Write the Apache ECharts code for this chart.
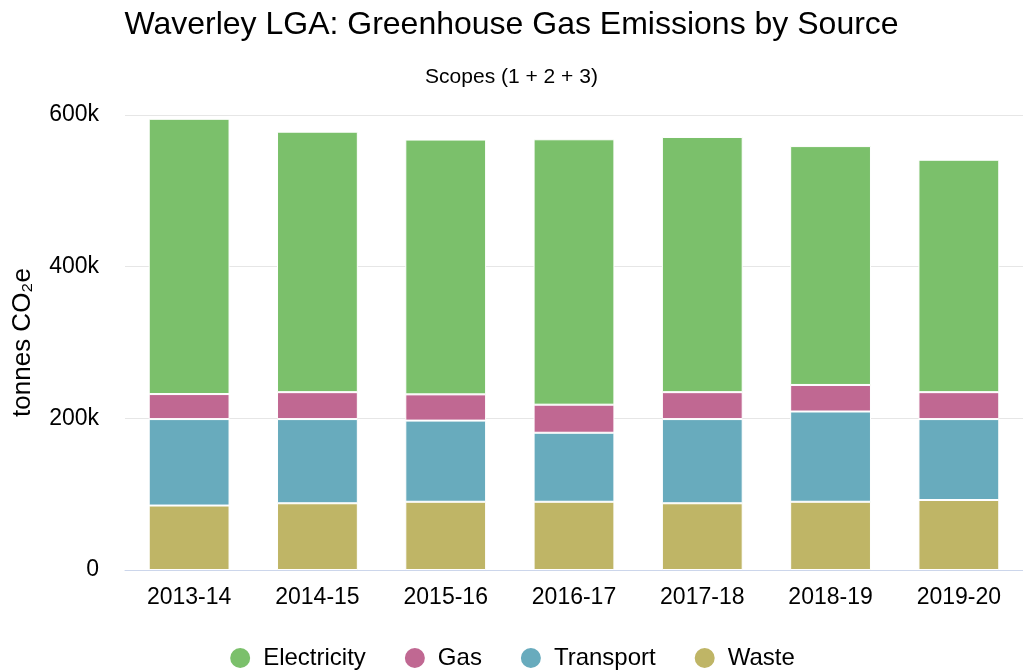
<!DOCTYPE html>
<html>
<head>
<meta charset="utf-8">
<script src="https://cdn.jsdelivr.net/npm/echarts@6/dist/echarts.min.js"></script>
<style>html,body{margin:0;padding:0;background:#fff}#c{width:1023px;height:670px}</style>
</head>
<body>
<div id="c"></div>
<script>
const categories = ['2013-14','2014-15','2015-16','2016-17','2017-18','2018-19','2019-20'];
const electricity = [363, 343.5, 336, 350, 336.5, 315, 306.5];
const gas = [33, 35.5, 34.6, 37, 35.5, 35, 35.5];
const transport = [114, 111, 107, 91, 111, 119, 106.7];
const waste = [85, 88, 90, 90, 88, 90, 92.3];
const yTicks = [0, 200, 400, 600];

const colors = {Electricity:'#7bc06b', Gas:'#c06892', Transport:'#68abbd', Waste:'#bfb566'};
const font = 'Liberation Sans, Arial, sans-serif';
const chart = echarts.init(document.getElementById('c'));
function s(name, data){
  return {name, type:'bar', stack:'total', data: data.map(v=>v*1000), barWidth:'63%',
    itemStyle:{color:colors[name], borderColor:'#fff', borderWidth:1}};
}
chart.setOption({
  animation:false,
  title:[
    {text:'Waverley LGA: Greenhouse Gas Emissions by Source', left:'center', top:4,
     textStyle:{fontFamily:font, fontSize:32, fontWeight:'normal', color:'#000'}},
    {text:'Scopes (1 + 2 + 3)', left:'center', top:62,
     textStyle:{fontFamily:font, fontSize:21, fontWeight:'normal', color:'#000'}}
  ],
  legend:{bottom:0, padding:0, left:'center', icon:'circle', itemWidth:22, itemHeight:22, itemGap:37,
    textStyle:{fontFamily:font, fontSize:24, color:'#000', padding:[0,0,0,7]},
    data:['Electricity','Gas','Transport','Waste']},
  grid:{left:125, right:0, top:115, bottom:100},
  xAxis:{type:'category', data:categories,
    axisLine:{lineStyle:{color:'#ccd6eb'}},
    axisTick:{length:16, lineStyle:{color:'#ccd6eb'}},
    axisLabel:{fontFamily:font, fontSize:23, color:'#000', margin:16}},
  yAxis:{type:'value', min:0, max:600000, interval:200000,
    name:'tonnes CO₂e', nameLocation:'middle', nameGap:89, nameRotate:90,
    nameTextStyle:{fontFamily:font, fontSize:26, color:'#000'},
    splitLine:{lineStyle:{color:'#e6e6e6'}},
    axisLabel:{fontFamily:font, fontSize:23, color:'#000', margin:26,
      formatter:v=> v===0 ? '0' : (yTicks.includes(v/1000) ? (v/1000)+'k' : '')}},
  series:[s('Waste',waste), s('Transport',transport), s('Gas',gas), s('Electricity',electricity)]
});
</script>
</body>
</html>
